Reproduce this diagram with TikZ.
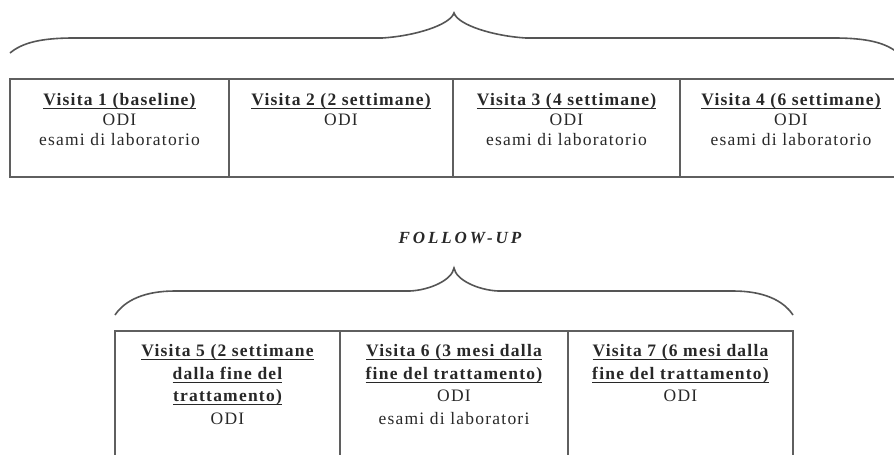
\documentclass[tikz,border=0pt]{standalone}
\usepackage{fontspec}
\setmainfont{Liberation Serif}[LetterSpace=7]
\newcommand\myul[1]{\setbox0\hbox{#1}\rlap{\rule[-3.6pt]{\wd0}{1.3pt}}\box0}
\definecolor{linegray}{RGB}{95,95,95}
\definecolor{bracegray}{RGB}{85,85,85}
\definecolor{txt}{RGB}{40,40,40}
\begin{document}
\begin{tikzpicture}[x=1pt,y=-1pt,
  frame/.style={draw=linegray, line width=1.4pt},
  brace/.style={draw=bracegray, line width=1.6pt},
  cell/.style={anchor=north, inner sep=0pt, align=center, text=txt,
    font=\fontsize{17.5}{20}\selectfont},
  cellb/.style={cell, font=\fontsize{17.5}{22.5}\selectfont}]
\useasboundingbox (0,0) rectangle (894,455);
\clip (0,0) rectangle (894,455);
\fill[white] (0,0) rectangle (894,455);

% top brace
\draw[brace] (10,53) .. controls (22,43) and (40,38) .. (74,38) -- (382,38)
  .. controls (415,36) and (450,25) .. (454,13)
  .. controls (458,25) and (493,36) .. (526,38) -- (834,38)
  .. controls (868,38) and (886,43) .. (898,53);

% top table
\draw[frame] (10,79) rectangle (902,177);
\draw[frame] (229,79) -- (229,177);
\draw[frame] (453,79) -- (453,177);
\draw[frame] (680,79) -- (680,177);

\node[cell] (v1) at (119.5,93) {\myul{\bfseries Visita 1 (baseline)}\\ODI\\esami di laboratorio};
\node[cell] (v2) at (341,93) {\myul{\bfseries Visita 2 (2 settimane)}\\ODI};
\node[cell] (v3) at (566.5,93) {\myul{\bfseries Visita 3 (4 settimane)}\\ODI\\esami di laboratorio};
\node[cell] (v4) at (791,93) {\myul{\bfseries Visita 4 (6 settimane)}\\ODI\\esami di laboratorio};

% follow-up label
\node[text=txt, font=\fontsize{17}{18}\selectfont\bfseries\itshape\addfontfeatures{LetterSpace=17}] (fu) at (460,238) {FOLLOW-UP};

% bottom brace
\draw[brace] (115,315) .. controls (125,300) and (145,291) .. (175,291) -- (410,291)
  .. controls (430,290) and (452,280) .. (454,268)
  .. controls (456,280) and (478,290) .. (498,291) -- (733,291)
  .. controls (763,291) and (783,300) .. (793,315);

% bottom table
\draw[frame] (115,331) rectangle (793,480);
\draw[frame] (340,331) -- (340,480);
\draw[frame] (568,331) -- (568,480);

\node[cellb] (v5) at (227.5,344.5) {\myul{\bfseries Visita 5 (2 settimane}\\\myul{\bfseries dalla fine del}\\\myul{\bfseries trattamento)}\\ODI};
\node[cellb] (v6) at (454,344.5) {\myul{\bfseries Visita 6 (3 mesi dalla}\\\myul{\bfseries fine del trattamento)}\\ODI\\esami di laboratori};
\node[cellb] (v7) at (680.5,344.5) {\myul{\bfseries Visita 7 (6 mesi dalla}\\\myul{\bfseries fine del trattamento)}\\ODI};
\end{tikzpicture}
\end{document}
